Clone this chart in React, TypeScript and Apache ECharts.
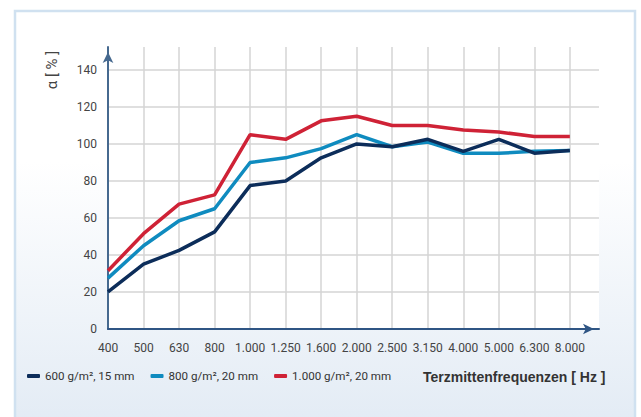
import React, { useEffect, useRef } from "react";
import * as echarts from "echarts";

const categories = ["400", "500", "630", "800", "1.000", "1.250", "1.600", "2.000", "2.500", "3.150", "4.000", "5.000", "6.300", "8.000"];
const seriesNames = ["600 g/m², 15 mm", "800 g/m², 20 mm", "1.000 g/m², 20 mm"];
const s600 = [20, 35, 42.5, 52.5, 77.5, 80, 92.5, 100, 98.5, 102.5, 96, 102.5, 95, 96.5];
const s800 = [27.5, 45, 58.5, 65, 90, 92.5, 97.5, 105, 98.5, 101, 95, 95, 96, 96.5];
const s1000 = [31.5, 51.5, 67.5, 72.5, 105, 102.5, 112.5, 115, 110, 110, 107.5, 106.5, 104, 104];
const colors = ["#0c2d5a", "#0f8bbf", "#cf2236"];
const yName = "α [ % ]";
const xName = "Terzmittenfrequenzen [ Hz ]";

const FONT = "Roboto, 'Liberation Sans', sans-serif";

export default function App() {
  const ref = useRef<HTMLDivElement>(null);
  useEffect(() => {
    if (!ref.current) return;
    const chart = echarts.init(ref.current, null, { renderer: "svg" });
    const data = [s600, s800, s1000];
    chart.setOption({
      animation: false,
      backgroundColor: "#ffffff",
      graphic: [
        {
          type: "rect",
          z: -10,
          silent: true,
          shape: { x: 15, y: 11, width: 620, height: 430 },
          style: {
            fill: {
              type: "linear", x: 0, y: 0, x2: 0, y2: 1,
              colorStops: [
                { offset: 0, color: "#ffffff" },
                { offset: 0.35, color: "#ffffff" },
                { offset: 1, color: "#e1eaf4" },
              ],
            },
            stroke: "#d0e1f0",
            lineWidth: 2.5,
          },
        },
        {
          type: "text",
          x: 52,
          y: 70,
          rotation: Math.PI / 2,
          style: {
            text: yName,
            fontFamily: FONT,
            fontSize: 15,
            fill: "#444",
            align: "center",
            verticalAlign: "middle",
          },
        },
        {
          type: "text",
          x: 423,
          y: 377,
          style: {
            text: xName,
            fontFamily: "'Liberation Sans', Arial, sans-serif",
            fontWeight: "bold",
            fontSize: 14,
            fill: "#333",
            align: "left",
            verticalAlign: "middle",
          },
        },
      ],
      grid: {
        left: 108,
        top: 47,
        right: 42,
        bottom: 88,
        show: true,
        backgroundColor: "#ffffff",
        borderWidth: 0,
      },
      legend: {
        left: 22,
        top: 365,
        itemWidth: 13,
        itemHeight: 4,
        itemGap: 16,
        icon: "roundRect",
        textStyle: { fontFamily: FONT, fontSize: 11.6, color: "#333" },
        data: seriesNames,
      },
      xAxis: {
        type: "value",
        min: 0,
        max: 13.82,
        interval: 1,
        axisLine: {
          show: true,
          lineStyle: { color: "#2f5584", width: 2 },
          symbol: ["none", "arrow"],
          symbolSize: [8, 11],
          symbolOffset: [0, -5],
        },
        axisTick: { show: false },
        axisLabel: {
          margin: 13,
          fontFamily: FONT,
          fontSize: 12,
          color: "#444",
          showMaxLabel: false,
          formatter: (v: number) => {
            const i = Math.round(v);
            return Math.abs(v - i) < 1e-6 && i < categories.length ? categories[i] : "";
          },
        },
        splitLine: {
          show: true,
          showMinLine: false,
          showMaxLine: false,
          lineStyle: { color: "#d4d4d4", width: 1.5 },
        },
      },
      yAxis: {
        type: "value",
        min: 0,
        max: 152.4,
        interval: 20,
        axisLine: {
          show: true,
          lineStyle: { color: "#46698f", width: 2 },
          symbol: ["none", "arrow"],
          symbolSize: [8, 11],
          symbolOffset: [0, -5],
        },
        axisTick: { show: false },
        axisLabel: {
          margin: 11,
          fontFamily: FONT,
          fontSize: 12,
          color: "#444",
          showMaxLabel: false,
          formatter: (v: number) => (v % 20 === 0 ? String(v) : ""),
        },
        splitLine: {
          show: true,
          showMinLine: false,
          showMaxLine: false,
          lineStyle: { color: "#d4d4d4", width: 1.5 },
        },
      },
      series: seriesNames.map((name, k) => ({
        name,
        type: "line",
        showSymbol: false,
        symbol: "none",
        color: colors[k],
        lineStyle: { color: colors[k], width: 3.5 },
        data: data[k].map((v, i) => [i, v]),
        z: 3 + (2 - k),
      })),
    });
    return () => chart.dispose();
  }, []);
  return (
    <div
      ref={ref}
      style={{ position: "fixed", left: 0, top: 0, width: 641, height: 417 }}
    />
  );
}
